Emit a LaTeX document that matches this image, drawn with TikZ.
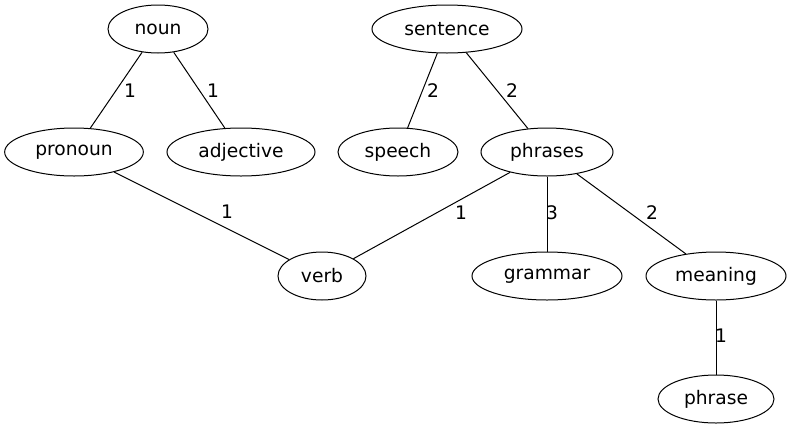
\documentclass[tikz,border=0pt]{standalone}
\usepackage{fontspec}
\setmainfont{DejaVu Sans}
\usetikzlibrary{shapes.geometric}

\begin{document}
\begin{tikzpicture}[x=0.75pt, y=-0.75pt, line width=0.75pt,
    % word nodes and edge weights
    word/.style={draw, ellipse, minimum height=36pt, inner sep=0pt, font=\fontsize{14}{16}\selectfont},
    wt/.style={inner sep=0pt, font=\fontsize{14}{16}\selectfont}]
\useasboundingbox (0,0) rectangle (793,429);

% Top row
\node[word, minimum width=75pt] (noun) at (158,29) {noun};
\node[word, minimum width=112.5pt] (sentence) at (447,29) {sentence};

% Second row
\node[word, minimum width=104pt] (pronoun) at (74,152) {pronoun};
\node[word, minimum width=111pt] (adjective) at (241,152) {adjective};
\node[word, minimum width=90pt] (speech) at (398,152) {speech};
\node[word, minimum width=99pt] (phrases) at (547,152) {phrases};

% Third row
\node[word, minimum width=66pt] (verb) at (322,276) {verb};
\node[word, minimum width=112.5pt] (grammar) at (547,276) {grammar};
\node[word, minimum width=105pt] (meaning) at (716,276) {meaning};

% Bottom
\node[word, minimum width=87pt] (phrase) at (716,399) {phrase};

% Edges with weights
\draw (noun) -- (pronoun) node[wt] at (130,91) {1};
\draw (noun) -- (adjective) node[wt] at (213,91) {1};
\draw (sentence) -- (speech) node[wt] at (433,91) {2};
\draw (sentence) -- (phrases) node[wt] at (512,91) {2};
\draw (pronoun) -- (verb) node[wt] at (227,212) {1};
\draw (phrases) -- (verb) node[wt] at (461,213) {1};
\draw (phrases) -- (grammar) node[wt] at (552,213) {3};
\draw (phrases) -- (meaning) node[wt] at (652,213) {2};
\draw (meaning) -- (phrase) node[wt] at (721,336) {1};

\end{tikzpicture}
\end{document}
